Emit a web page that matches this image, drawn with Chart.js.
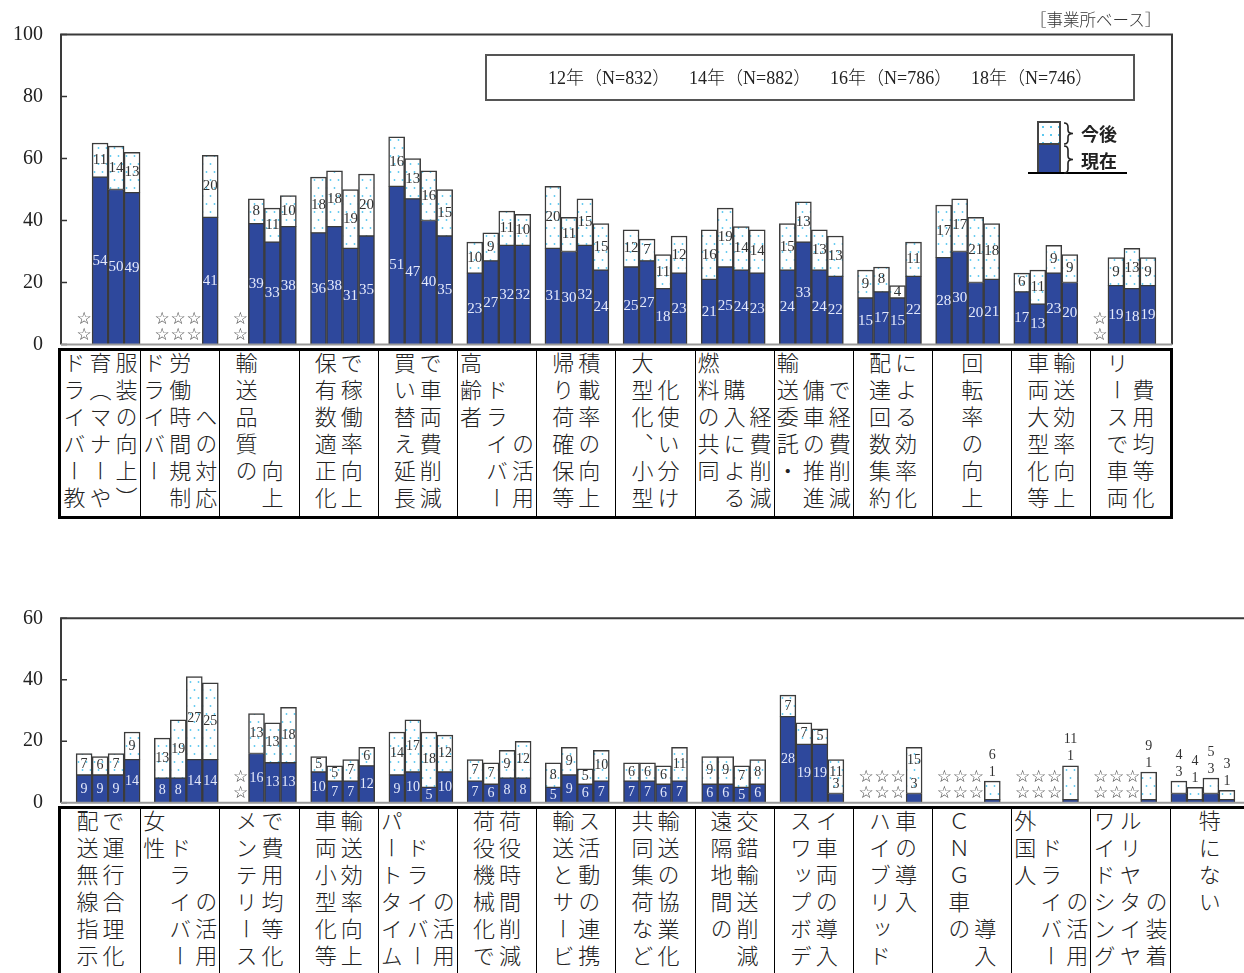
<!DOCTYPE html>
<html lang="ja">
<head>
<meta charset="utf-8">
<script src="https://cdn.jsdelivr.net/npm/chart.js@4.4.1/dist/chart.umd.min.js"></script>
<style>
  html, body { margin: 0; padding: 0; background: #fff; }
  body { width: 1244px; height: 973px; overflow: hidden; position: relative; font-family: "Noto Sans CJK JP", sans-serif; color: #222; }
  canvas { position: absolute; left: 0; }
  #topChart { top: 0; }
  #btmChart { top: 590px; }
  .note { position: absolute; left: 1030px; top: 9px; font-size: 16.5px; font-weight: 300; line-height: 20px; color: #333; white-space: nowrap; }
  .years { position: absolute; left: 485px; top: 54px; width: 650px; height: 47px; border: 2px solid #555; box-sizing: border-box; }
  .years span { position: absolute; top: 11px; font-family: "Liberation Serif", "Noto Sans CJK JP", serif; font-size: 18px; font-weight: 300; line-height: 22px; white-space: nowrap; color: #222; }
  .swatch { position: absolute; left: 1037px; top: 121px; width: 24px; height: 53px; border: 2px solid #444; box-sizing: border-box; background: #2e489c; }
  .swatch .later { height: 20px; border-bottom: 2px solid #444; background: #fff radial-gradient(circle, #5bc8f0 1px, transparent 1.4px) 0 0 / 8px 8px; }
  .rule { position: absolute; left: 1028px; top: 172px; width: 99px; height: 2px; background: #000; }
  .braces { position: absolute; left: 1062px; top: 120px; }
  .key { position: absolute; left: 1081px; font-size: 18px; font-weight: bold; line-height: 20px; }
  .cats { position: absolute; left: 58px; display: flex; border: 3px solid #000; background: #fff; box-sizing: border-box; }
  #topCats { top: 348px; width: 1115px; height: 171px; }
  #btmCats { top: 806px; width: 1194px; height: 190px; border-right: none; }
  .cat { flex: 0 0 79.2px; width: 79.2px; display: flex; justify-content: center; border-left: 1px solid #000; box-sizing: border-box; padding-top: 1px; }
  .cat:first-child { border-left: none; }
  .col { writing-mode: vertical-rl; text-orientation: mixed; font-size: 22px; font-weight: 300; line-height: 26px; letter-spacing: 5px; width: 26px; white-space: pre; color: #222; }
</style>
</head>
<body>
<canvas id="topChart" width="1244" height="360"></canvas>
<canvas id="btmChart" width="1260" height="230"></canvas>

<div class="note">［事業所ベース］</div>
<div class="years" id="years"></div>
<div class="swatch"><div class="later"></div></div>
<div class="rule"></div>
<svg class="braces" width="20" height="56" viewBox="0 0 20 56">
  <path d="M2,3 Q6,3 6,7 L6,10 Q6,13.5 11,13.5 Q6,13.5 6,17 L6,20 Q6,24 2,24" fill="none" stroke="#222" stroke-width="1.6"/>
  <path d="M2,26 Q6,26 6,30 L6,36 Q6,39.5 11,39.5 Q6,39.5 6,43 L6,49 Q6,53 2,53" fill="none" stroke="#222" stroke-width="1.6"/>
</svg>
<div class="key" style="top:123px">今後</div>
<div class="key" style="top:150px">現在</div>

<div class="cats" id="topCats"></div>
<div class="cats" id="btmCats"></div>

<script>
// 調査年
const years = ['12年', '14年', '16年', '18年'];
const sampleSizes = [832, 882, 786, 746];

// 上段：取組み項目（縦書き、列ごと）
const topCats = [
  ['ドライバー教', '育（マナーや', '服装の向上）'],
  ['ドライバー　', '労働時間規制', '　　への対応'],
  ['輸送品質の　', '　　　　向上'],
  ['保有数適正化', 'で稼働率向上'],
  ['買い替え延長', 'で車両費削減'],
  ['高齢者　　　', '　ドライバー', '　　　の活用'],
  ['帰り荷確保等', '積載率の向上'],
  ['大型化、小型', '　化使い分け'],
  ['燃料の共同　', '　購入による', '　　経費削減'],
  ['輸送委託・　', '　傭車の推進', '　で経費削減'],
  ['配達回数集約', 'による効率化'],
  ['回転率の向上'],
  ['車両大型化等', '輸送効率向上'],
  ['リースで車両', '　費用均等化']
];

// 上段：現在（%）  null は未調査（☆）
const topNow12 = [null, null, null, 36, 51, 23, 31, 25, 21, 24, 15, 28, 17, null];
const topNow14 = [54, null, 39, 38, 47, 27, 30, 27, 25, 33, 17, 30, 13, 19];
const topNow16 = [50, null, 33, 31, 40, 32, 32, 18, 24, 24, 15, 20, 23, 18];
const topNow18 = [49, 41, 38, 35, 35, 32, 24, 23, 23, 22, 22, 21, 20, 19];
// 上段：今後（%）
const topLater12 = [null, null, null, 18, 16, 10, 20, 12, 16, 15, 9, 17, 6, null];
const topLater14 = [11, null, 8, 18, 13, 9, 11, 7, 19, 13, 8, 17, 11, 9];
const topLater16 = [14, null, 11, 19, 16, 11, 15, 11, 14, 13, 4, 21, 9, 13];
const topLater18 = [13, 20, 10, 20, 15, 10, 15, 12, 14, 13, 11, 18, 9, 9];

// 下段：取組み項目
const btmCats = [
  ['配送無線指示', 'で運行合理化'],
  ['女性　　　　', '　ドライバー', '　　　の活用'],
  ['メンテリース', 'で費用均等化'],
  ['車両小型化等', '輸送効率向上'],
  ['パートタイム', '　ドライバー', '　　　の活用'],
  ['荷役機械化で', '荷役時間削減'],
  ['輸送とサービ', 'ス活動の連携'],
  ['共同集荷など', '輸送の協業化'],
  ['遠隔地間の　', '交錯輸送削減'],
  ['スワップボデ', 'イ車両の導入'],
  ['ハイブリッド', '車の導入　　'],
  ['ＣＮＧ車の　', '　　　　導入'],
  ['外国人　　　', '　ドライバー', '　　　の活用'],
  ['ワイドシング', 'ルリヤタイヤ', '　　　の装着'],
  ['特にない　　']
];

const btmNow12 = [9, 8, null, 10, 9, 7, 5, 7, 6, 28, null, null, null, null, 3];
const btmNow14 = [9, 8, 16, 7, 10, 6, 9, 7, 6, 19, null, null, null, null, 1];
const btmNow16 = [9, 14, 13, 7, 5, 8, 6, 6, 5, 19, null, null, null, null, 3];
const btmNow18 = [14, 14, 13, 12, 10, 8, 7, 7, 6, 3, 3, 1, 1, 1, 1];
const btmLater12 = [7, 13, null, 5, 14, 7, 8, 6, 9, 7, null, null, null, null, 4];
const btmLater14 = [6, 19, 13, 5, 17, 7, 9, 6, 9, 7, null, null, null, null, 4];
const btmLater16 = [7, 27, 13, 7, 18, 9, 5, 6, 7, 5, null, null, null, null, 5];
const btmLater18 = [9, 25, 18, 6, 12, 12, 10, 11, 8, 11, 15, 6, 11, 9, 3];

const NOW_BLUE = '#2e489c';
const EDGE = '#3b3b3b';

// 凡例（調査年）
const yearBox = document.getElementById('years');
years.forEach((yr, k) => {
  const s = document.createElement('span');
  s.textContent = `${yr}（N=${sampleSizes[k]}）`;
  s.style.left = (61 + k * 141) + 'px';
  yearBox.appendChild(s);
});

// 項目表
function buildCats(id, cats) {
  const box = document.getElementById(id);
  cats.forEach(cols => {
    const cell = document.createElement('div');
    cell.className = 'cat';
    cols.forEach(txt => {
      const c = document.createElement('div');
      c.className = 'col';
      c.textContent = txt;
      cell.appendChild(c);
    });
    box.appendChild(cell);
  });
}
buildCats('topCats', topCats);
buildCats('btmCats', btmCats);

// 今後：水色ドット柄
function dotPattern() {
  const c = document.createElement('canvas');
  c.width = 8; c.height = 16;
  const g = c.getContext('2d');
  g.fillStyle = '#fff';
  g.fillRect(0, 0, 8, 16);
  g.fillStyle = '#5bc8f0';
  g.beginPath(); g.arc(2.5, 4, 0.9, 0, Math.PI * 2); g.fill();
  g.beginPath(); g.arc(6.5, 12, 0.9, 0, Math.PI * 2); g.fill();
  return g.createPattern(c, 'repeat');
}
const DOTS = dotPattern();

function makeSets(nowArrs, laterArrs) {
  const sets = [];
  years.forEach((yr, k) => {
    sets.push({
      label: yr + '現在', data: nowArrs[k], stack: yr,
      backgroundColor: NOW_BLUE, borderColor: EDGE,
      borderWidth: { top: 1, left: 1.5, right: 1.5, bottom: 0 }, borderSkipped: false,
      barThickness: 16
    });
    sets.push({
      label: yr + '今後', data: laterArrs[k], stack: yr,
      backgroundColor: DOTS, borderColor: EDGE,
      borderWidth: { top: 1.5, left: 1.5, right: 1.5, bottom: 1 }, borderSkipped: false,
      barThickness: 16
    });
  });
  return sets;
}

// 枠線と内向き目盛り（枠は作図領域より少し広い）
const framePlugin = {
  id: 'frame',
  afterDraw(chart, args, opts) {
    const { ctx, chartArea: a } = chart;
    const y = chart.scales.y;
    const L = opts.left, R = opts.right;
    ctx.save();
    ctx.strokeStyle = '#333';
    ctx.lineWidth = 1.5;
    y.ticks.forEach(t => {
      const py = y.getPixelForValue(t.value);
      ctx.beginPath(); ctx.moveTo(L, py); ctx.lineTo(L + 6, py); ctx.stroke();
    });
    ctx.lineWidth = 2;
    ctx.strokeStyle = '#3a3a3a';
    ctx.beginPath();
    ctx.moveTo(L, a.bottom); ctx.lineTo(L, a.top); ctx.lineTo(R, a.top); ctx.lineTo(R, a.bottom);
    ctx.stroke();
    ctx.strokeStyle = '#9a9a9a';
    ctx.beginPath(); ctx.moveTo(L, a.bottom); ctx.lineTo(R, a.bottom); ctx.stroke();
    ctx.restore();
  }
};

// 数値ラベルと未調査の☆
const valueLabels = {
  id: 'valueLabels',
  afterDatasetsDraw(chart, args, opts) {
    const { ctx } = chart;
    const y = chart.scales.y;
    const base = y.getPixelForValue(0);
    ctx.save();
    ctx.textAlign = 'center';
    ctx.textBaseline = 'middle';
    for (let k = 0; k < years.length; k++) {
      const nowSet = chart.data.datasets[k * 2].data;
      const laterSet = chart.data.datasets[k * 2 + 1].data;
      chart.getDatasetMeta(k * 2).data.forEach((bar, i) => {
        const now = nowSet[i], later = laterSet[i];
        const x = bar.x;
        if (now == null) {
          ctx.font = '17px "DejaVu Sans", sans-serif';
          ctx.fillStyle = '#444';
          ctx.fillText('☆', x, base - 9);
          ctx.fillText('☆', x, base - 25);
          return;
        }
        const yNow = y.getPixelForValue(now);
        const yTop = y.getPixelForValue(now + later);
        ctx.font = opts.size + 'px "Liberation Serif", serif';
        if (now < 5 && now + later < 13) {
          ctx.fillStyle = '#333';
          ctx.fillText(String(later), x, yTop - 26);
          ctx.fillText(String(now), x, yTop - 9);
        } else if (now < 5) {
          ctx.fillStyle = '#333';
          ctx.fillText(String(later), x, yTop + 13);
          ctx.fillText(String(now), x, yNow - 9);
        } else {
          ctx.fillStyle = '#e4e9fb';
          ctx.fillText(String(now), x, (base + yNow) / 2);
          ctx.fillStyle = '#333';
          ctx.fillText(String(later), x, (yNow + yTop) / 2);
        }
      });
    }
    ctx.restore();
  }
};

function makeChart(id, cats, sets, cfg) {
  return new Chart(document.getElementById(id), {
    type: 'bar',
    data: { labels: cats.map(c => c.join('')), datasets: sets },
    options: {
      responsive: false,
      animation: false,
      events: [],
      layout: { padding: cfg.padding },
      plugins: {
        legend: { display: false },
        tooltip: { enabled: false },
        valueLabels: { size: cfg.labelSize },
        frame: { left: 61, right: cfg.frameRight }
      },
      scales: {
        x: { display: false, stacked: true },
        y: {
          stacked: true, min: 0, max: cfg.yMax,
          afterFit: s => { s.width = 69; },
          ticks: { stepSize: 20, padding: 0, color: '#222', font: { family: '"Liberation Serif", serif', size: 20 } },
          // 目盛り線は描かず、長さだけラベル位置の間隔に使う
          grid: { display: false, drawTicks: true, tickLength: 26 },
          border: { display: false }
        }
      }
    },
    plugins: [framePlugin, valueLabels]
  });
}

// 上段：作図領域 69〜1163（1項目 78.1px）
makeChart('topChart', topCats,
  makeSets([topNow12, topNow14, topNow16, topNow18], [topLater12, topLater14, topLater16, topLater18]),
  { padding: { left: 0, right: 1244 - 1163, top: 34.5, bottom: 15.5 }, frameRight: 1172, yMax: 100, labelSize: 15 });

// 下段：作図領域 69〜1242（右端は画面外）
makeChart('btmChart', btmCats,
  makeSets([btmNow12, btmNow14, btmNow16, btmNow18], [btmLater12, btmLater14, btmLater16, btmLater18]),
  { padding: { left: 0, right: 1260 - 1242, top: 28.3, bottom: 17.3 }, frameRight: 1252, yMax: 60, labelSize: 14 });
</script>
</body>
</html>
